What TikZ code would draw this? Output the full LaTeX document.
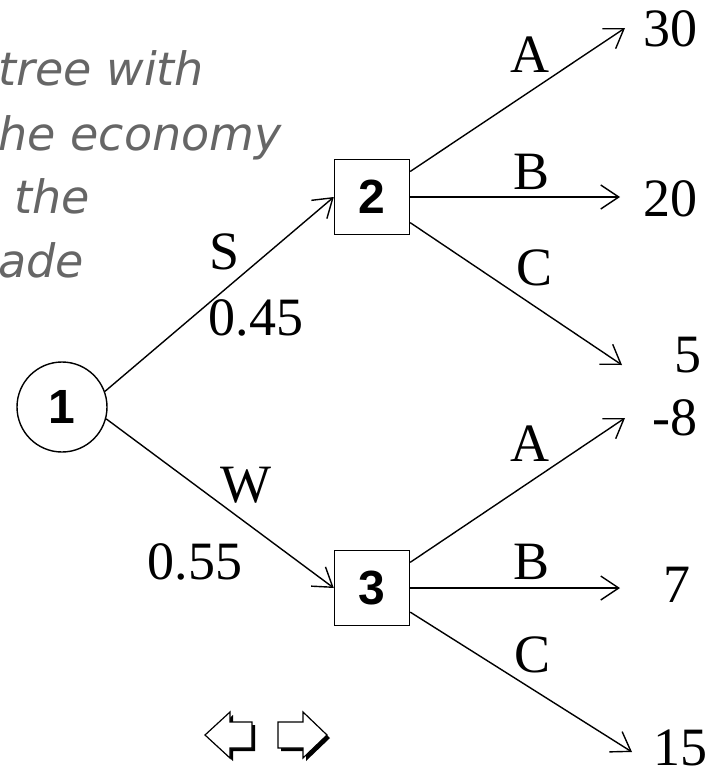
\documentclass[tikz,border=0pt]{standalone}
\usepackage{fontspec}
\setmainfont{Liberation Serif}
\newfontfamily\numsans{Liberation Sans}
\newfontfamily\notesans{DejaVu Sans}
\usetikzlibrary{arrows.meta,positioning}

\begin{document}
\begin{tikzpicture}[
  x=0.5pt, y=-0.5pt,
  chance/.style={
    circle, draw, line width=0.7pt, minimum size=45pt, inner sep=0pt,
    font=\numsans\fontsize{24}{24}\selectfont\bfseries
  },
  decision/.style={
    rectangle, draw, line width=0.7pt, minimum size=37.5pt, inner sep=0pt,
    font=\numsans\fontsize{24}{24}\selectfont\bfseries
  },
  branch/.style={-{Straight Barb[length=9pt,width=12pt]}, line width=0.7pt},
  lbl/.style={inner sep=0pt, font=\fontsize{27}{27}\selectfont},
  note/.style={
    anchor=base west, inner sep=0pt, text=black!60,
    font=\notesans\itshape\fontsize{23}{23}\selectfont
  },
  navarrow/.style={draw, line width=0.6pt, fill=white}
]
  \useasboundingbox (0,0) rectangle (708,776);

  % note text, cut at the left edge
  \node[note] (t1) at (-2,85)  {tree with};
  \node[note] (t2) at (-2,150) {he economy};
  \node[note] (t3) at (14,213) {the};
  \node[note] (t4) at (-2,277) {ade};

  % tree nodes
  \node[chance]   (n1) at (62,407) {1};
  \node[decision] (n2) at (372,197) {2};
  \node[decision] (n3) at (372,588) {3};

  % arrow tips of the final branches
  \coordinate (a2) at (625,28);
  \coordinate (b2) at (620,197);
  \coordinate (c2) at (622,365);
  \coordinate (a3) at (625,418);
  \coordinate (b3) at (620,588);
  \coordinate (c3) at (632,752);

  \draw[branch] (n1.20)  -- (n2.west);
  \draw[branch] (n1.-15) -- (n3.west);
  \foreach \s/\t in {n2/a2,n2/b2,n2/c2,n3/a3,n3/b3,n3/c3} {
    \draw[branch] (\s) -- (\t);
  }

  % branch labels
  \node[lbl] (ls)  at (225,252) {S};
  \node[lbl] (lp1) at (256,318) {0.45};
  \node[lbl] (lw)  at (246,485) {W};
  \node[lbl] (lp2) at (195,562) {0.55};
  \node[lbl] (la2) at (530,55)  {A};
  \node[lbl] (lb2) at (532,172) {B};
  \node[lbl] (lc2) at (535,268) {C};
  \node[lbl] (la3) at (530,444) {A};
  \node[lbl] (lb3) at (532,562) {B};
  \node[lbl] (lc3) at (533,655) {C};

  % payoffs
  \node[lbl] (p30) at (670,29)  {30};
  \node[lbl] (p20) at (670,199) {20};
  \node[lbl] (p5)  at (688,355) {5};
  \node[lbl] (pm8) at (675,418) {-8};
  \node[lbl] (p7)  at (677,585) {7};
  \node[lbl] (p15) at (680,748) {15};

  % navigation arrows
  \fill[black] (208,738) -- (233,715) -- (233,725) -- (255,725) -- (255,751)
    -- (233,751) -- (233,761) -- cycle;
  \path[navarrow] (205,735) -- (230,712) -- (230,722) -- (252,722) -- (252,748)
    -- (230,748) -- (230,758) -- cycle;
  \fill[black] (330,738) -- (306,715) -- (306,725) -- (281,725) -- (281,751)
    -- (306,751) -- (306,761) -- cycle;
  \path[navarrow] (327,735) -- (303,712) -- (303,722) -- (278,722) -- (278,748)
    -- (303,748) -- (303,758) -- cycle;
\end{tikzpicture}
\end{document}
